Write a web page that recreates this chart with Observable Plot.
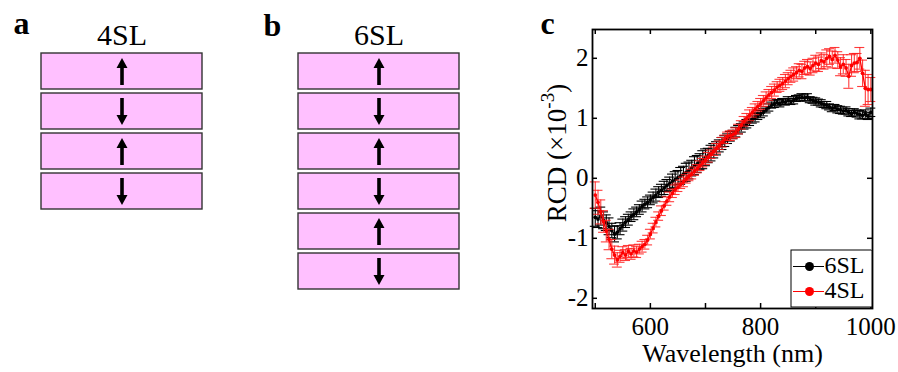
<!DOCTYPE html>
<html>
<head>
<meta charset="utf-8">
<script src="https://cdn.jsdelivr.net/npm/d3@7"></script>
<script src="https://cdn.jsdelivr.net/npm/@observablehq/plot@0.6"></script>
<style>
html, body { margin: 0; padding: 0; background: #fff; }
#root { position: relative; width: 898px; height: 372px; overflow: hidden; background: #fff;
  font-family: "Liberation Serif", "Times New Roman", serif; }
#root > svg, #root > figure { position: absolute; margin: 0; }
</style>
</head>
<body>
<div id="root"></div>
<script>
// ---------- data ----------
const layers4 = ["up", "down", "up", "down"];
const layers6 = ["up", "down", "up", "down", "up", "down"];
const stackTitles = ["4SL", "6SL"];
const panelLetters = ["a", "b", "c"];

const wavelength = [
  500,505,510,515,520,525,530,535,540,545,
  550,555,560,565,570,575,580,585,590,595,
  600,605,610,615,620,625,630,635,640,645,
  650,655,660,665,670,675,680,685,690,695,
  700,705,710,715,720,725,730,735,740,745,
  750,755,760,765,770,775,780,785,790,795,
  800,805,810,815,820,825,830,835,840,845,
  850,855,860,865,870,875,880,885,890,895,
  900,905,910,915,920,925,930,935,940,945,
  950,955,960,965,970,975,980,985,990,995,
  1000];

const rcd6SL = [
  -0.65,-0.68,-0.63,-0.70,-0.74,-0.80,-0.87,-0.93,-0.90,-0.84,
  -0.78,-0.73,-0.69,-0.64,-0.60,-0.56,-0.52,-0.47,-0.43,-0.40,
  -0.36,-0.32,-0.28,-0.23,-0.20,-0.16,-0.12,-0.09,-0.05,-0.02,
  0.01,0.04,0.07,0.10,0.13,0.17,0.21,0.24,0.28,0.31,
  0.35,0.38,0.42,0.46,0.50,0.54,0.58,0.62,0.66,0.70,
  0.73,0.77,0.81,0.84,0.88,0.91,0.94,0.98,1.01,1.04,
  1.07,1.10,1.14,1.18,1.22,1.24,1.26,1.25,1.28,1.27,
  1.30,1.28,1.30,1.33,1.34,1.35,1.34,1.35,1.31,1.30,
  1.28,1.27,1.25,1.23,1.22,1.19,1.17,1.18,1.15,1.14,
  1.12,1.13,1.10,1.08,1.10,1.08,1.06,1.05,1.07,1.04,
  1.10];

const err6SL = [
  0.15,0.14,0.15,0.14,0.13,0.14,0.12,0.13,0.11,0.10,
  0.10,0.09,0.09,0.08,0.09,0.08,0.08,0.09,0.08,0.09,
  0.08,0.09,0.10,0.09,0.10,0.11,0.10,0.11,0.12,0.13,
  0.12,0.14,0.13,0.15,0.14,0.13,0.15,0.14,0.13,0.15,
  0.14,0.12,0.13,0.12,0.11,0.10,0.10,0.09,0.08,0.08,
  0.07,0.08,0.07,0.07,0.06,0.07,0.06,0.06,0.07,0.06,
  0.06,0.06,0.05,0.06,0.05,0.06,0.05,0.06,0.05,0.05,
  0.06,0.05,0.06,0.05,0.05,0.06,0.05,0.06,0.05,0.05,
  0.06,0.05,0.06,0.05,0.06,0.05,0.06,0.05,0.06,0.06,
  0.05,0.06,0.06,0.05,0.06,0.06,0.07,0.06,0.07,0.06,
  0.07];

const rcd4SL = [
  -0.28,-0.40,-0.56,-0.72,-0.88,-1.02,-1.18,-1.28,-1.36,-1.30,
  -1.24,-1.28,-1.22,-1.26,-1.21,-1.23,-1.18,-1.14,-1.10,-1.03,
  -0.93,-0.83,-0.73,-0.63,-0.54,-0.46,-0.38,-0.31,-0.25,-0.19,
  -0.15,-0.10,-0.06,-0.01,0.03,0.07,0.12,0.16,0.21,0.26,
  0.30,0.35,0.40,0.45,0.50,0.55,0.60,0.65,0.70,0.71,
  0.73,0.76,0.82,0.89,0.95,1.00,1.05,1.10,1.15,1.20,
  1.24,1.29,1.34,1.39,1.43,1.47,1.52,1.55,1.58,1.62,
  1.66,1.70,1.73,1.76,1.80,1.78,1.84,1.86,1.83,1.88,
  1.92,1.90,1.96,1.94,2.00,2.03,1.98,2.05,1.97,1.86,
  1.90,1.84,1.70,1.88,1.92,1.93,2.00,1.75,1.50,1.48,
  1.48];

const err4SL = [
  0.22,0.20,0.20,0.18,0.18,0.17,0.16,0.15,0.12,0.10,
  0.10,0.09,0.10,0.09,0.10,0.09,0.08,0.09,0.08,0.08,
  0.08,0.08,0.08,0.07,0.08,0.07,0.07,0.08,0.07,0.08,
  0.07,0.07,0.08,0.07,0.07,0.08,0.07,0.07,0.08,0.07,
  0.07,0.08,0.07,0.07,0.08,0.07,0.08,0.07,0.07,0.08,
  0.07,0.08,0.08,0.07,0.08,0.08,0.09,0.08,0.09,0.08,
  0.09,0.09,0.10,0.09,0.10,0.10,0.09,0.10,0.10,0.11,
  0.10,0.10,0.11,0.10,0.11,0.12,0.11,0.12,0.11,0.12,
  0.13,0.12,0.13,0.12,0.14,0.13,0.14,0.13,0.14,0.15,
  0.16,0.14,0.20,0.18,0.16,0.15,0.18,0.22,0.30,0.25,
  0.20];

const seriesNames = ["6SL", "4SL"];
const seriesColors = ["#000000", "#ff0000"];
const xTickValues = [500, 600, 700, 800, 900, 1000];
const xTickLabels = [600, 800, 1000];
const yTickValues = [-2, -1, 0, 1, 2];

// ---------- helpers ----------
const root = document.getElementById("root");
const FONT = '"Liberation Serif", "Times New Roman", serif';
const layerFill = "#ffc0ff";
const layerEdge = "#333333";

const arrowShape = {
  draw(ctx, l) {
    const hw = 1.8, headW = 5.5, headH = 10;
    ctx.moveTo(-hw, 0);
    ctx.lineTo(-hw, -l + headH);
    ctx.lineTo(-headW, -l + headH);
    ctx.lineTo(0, -l);
    ctx.lineTo(headW, -l + headH);
    ctx.lineTo(hw, -l + headH);
    ctx.lineTo(hw, 0);
    ctx.closePath();
  }
};

function place(el, left, top) {
  el.style.left = left + "px";
  el.style.top = top + "px";
  root.appendChild(el);
}

function stackPlot(spins, title, letter, opts) {
  const layers = spins.map((spin, i) => ({layer: i, spin}));
  return Plot.plot({
    width: opts.width, height: opts.height,
    marginLeft: opts.ml, marginRight: opts.mr, marginTop: opts.mt, marginBottom: opts.mb,
    style: {fontFamily: FONT, background: "transparent", color: "black", overflow: "visible"},
    x: {axis: null},
    y: {type: "band", domain: layers.map(d => d.layer), paddingInner: 0.1, paddingOuter: 0, axis: null},
    marks: [
      Plot.cell(layers, {y: "layer", fill: layerFill, stroke: layerEdge, strokeWidth: 1.4, inset: 0}),
      Plot.vector(layers, {
        y: "layer", length: 27, anchor: "middle", shape: arrowShape,
        rotate: d => d.spin === "up" ? 0 : 180,
        fill: "black", stroke: "none"
      }),
      Plot.text([title], {text: d => d, frameAnchor: "top", lineAnchor: "middle", dy: opts.titleDy, fontSize: 30}),
      Plot.text([letter], {text: d => d, frameAnchor: "top-left", lineAnchor: "middle", textAnchor: "start",
        dx: opts.letterDx, dy: opts.letterDy, fontSize: 32, fontWeight: "bold"})
    ]
  });
}

// ---------- panel a ----------
const plotA = stackPlot(layers4, stackTitles[0], panelLetters[0],
  {width: 240, height: 230, ml: 41, mr: 38, mt: 52, mb: 21, titleDy: -17, letterDx: -28, letterDy: -29});
place(plotA, 0, 0);

// ---------- panel b ----------
const plotB = stackPlot(layers6, stackTitles[1], panelLetters[1],
  {width: 250, height: 300, ml: 48, mr: 41, mt: 52, mb: 11, titleDy: -17, letterDx: -35, letterDy: -27});
place(plotB, 250, 0);

// ---------- panel c ----------
const rows = [
  ...wavelength.map((w, i) => ({series: seriesNames[0], w, v: rcd6SL[i], e: err6SL[i]})),
  ...wavelength.map((w, i) => ({series: seriesNames[1], w, v: rcd4SL[i], e: err4SL[i]}))
];
const capHalf = 9; // nm
const W = 368, H = 372, ML = 62, MR = 26, MT = 29, MB = 64;
const PW = W - ML - MR, PH = H - MT - MB;
const tickLen = 5;

function seriesMarks(name) {
  const d = rows.filter(r => r.series === name);
  const isRed = name === "4SL";
  const errStroke = isRed ? "#ff1a1a" : "#000000";
  const errOpacity = isRed ? 0.85 : 1;
  return [
    Plot.ruleX(d, {x: "w", y1: r => r.v - r.e, y2: r => r.v + r.e, stroke: errStroke, strokeWidth: 1.1, strokeOpacity: errOpacity}),
    Plot.ruleY(d, {y: r => r.v + r.e, x1: r => r.w - capHalf, x2: r => r.w + capHalf, stroke: errStroke, strokeWidth: 1.1, strokeOpacity: errOpacity}),
    Plot.ruleY(d, {y: r => r.v - r.e, x1: r => r.w - capHalf, x2: r => r.w + capHalf, stroke: errStroke, strokeWidth: 1.1, strokeOpacity: errOpacity}),
    Plot.line(d, {x: "w", y: "v", stroke: "series", strokeWidth: 1.3}),
    Plot.dot(d, {x: "w", y: "v", fill: "series", r: 1.9})
  ];
}

const plotC = Plot.plot({
  width: W, height: H, marginLeft: ML, marginRight: MR, marginTop: MT, marginBottom: MB,
  style: {fontFamily: FONT, fontSize: "25px", background: "transparent", color: "black", overflow: "visible"},
  x: {domain: [495, 1003]},
  y: {domain: [-2.17, 2.48]},
  color: {domain: seriesNames, range: seriesColors},
  marks: [
    ...seriesMarks("6SL"),
    ...seriesMarks("4SL"),
    Plot.frame({stroke: "black", strokeWidth: 1.8}),
    Plot.ruleX(xTickValues, {x: d => d, insetTop: PH - tickLen, stroke: "black", strokeWidth: 1.5}),
    Plot.ruleX(xTickValues, {x: d => d, insetBottom: PH - tickLen, stroke: "black", strokeWidth: 1.5}),
    Plot.ruleY(yTickValues, {y: d => d, insetRight: PW - tickLen, stroke: "black", strokeWidth: 1.5}),
    Plot.ruleY(yTickValues, {y: d => d, insetLeft: PW - tickLen, stroke: "black", strokeWidth: 1.5}),
    Plot.axisX(xTickLabels, {tickSize: 0, tickPadding: 9, label: null, tickFormat: d => String(d)}),
    Plot.axisY(yTickValues, {tickSize: 0, tickPadding: 4, label: null, tickFormat: d => String(d)}),
    Plot.text(["Wavelength (nm)"], {text: d => d, frameAnchor: "bottom", lineAnchor: "top", dy: 35, fontSize: 26}),
    Plot.text([panelLetters[2]], {text: d => d, frameAnchor: "top-left", lineAnchor: "middle", textAnchor: "start",
      dx: -52, dy: -6, fontSize: 32, fontWeight: "bold"})
  ]
});
// y-axis title with superscript exponent
{
  const svg = d3.select(plotC);
  const t = svg.append("text")
    .attr("transform", "translate(36,153) rotate(-90)")
    .attr("text-anchor", "middle")
    .attr("fill", "black")
    .style("font-size", "27px")
    .style("font-family", FONT);
  t.append("tspan").text("RCD (×10");
  t.append("tspan").attr("dy", -12).style("font-size", "19px").text("-3");
  t.append("tspan").attr("dy", 12).text(")");
}
place(plotC, 530, 0);

// ---------- legend ----------
const legend = Plot.plot({
  width: 82, height: 58, margin: 0,
  style: {fontFamily: FONT, fontSize: "24px", background: "white", color: "black", overflow: "visible"},
  x: {domain: [0, 1], axis: null},
  y: {type: "point", domain: seriesNames, range: [17, 42], padding: 0, axis: null},
  color: {domain: seriesNames, range: seriesColors},
  marks: [
    Plot.frame({stroke: "black", strokeWidth: 1, inset: 0.5}),
    Plot.ruleY(seriesNames, {y: d => d, stroke: d => d, insetLeft: 3, insetRight: 48, strokeWidth: 1}),
    Plot.dot(seriesNames, {y: d => d, fill: d => d, r: 4.5, frameAnchor: "left", dx: 19}),
    Plot.text(seriesNames, {y: d => d, text: d => d, frameAnchor: "left", textAnchor: "start", dx: 34, dy: -1, fill: "black"})
  ]
});
place(legend, 790, 249);
</script>
</body>
</html>
